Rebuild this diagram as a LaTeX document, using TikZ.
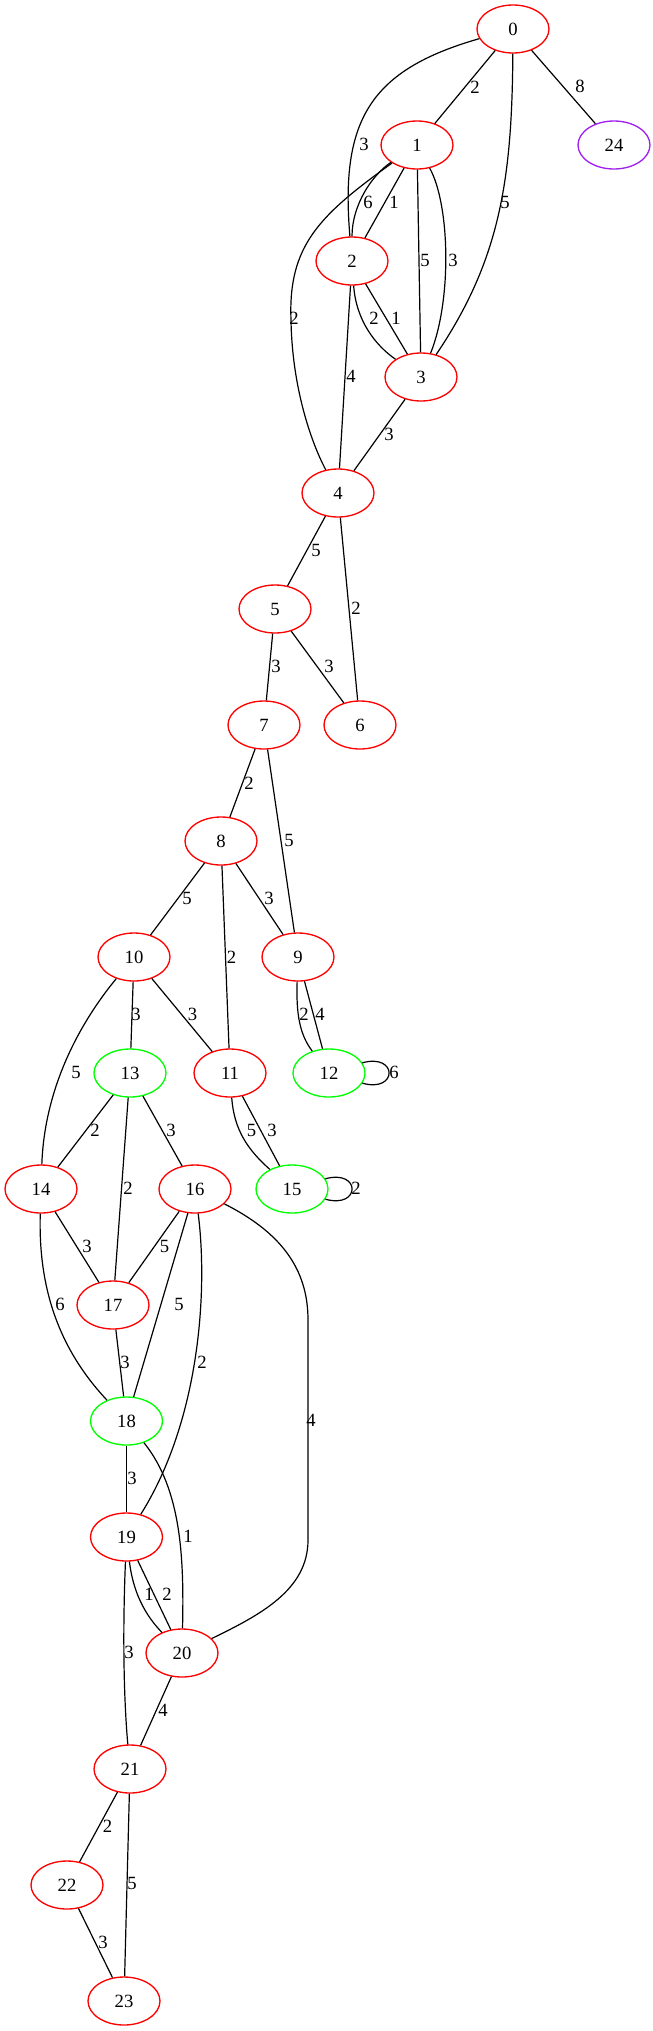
\documentclass[tikz,border=0pt]{standalone}
\usepackage{fontspec}
\setmainfont{Liberation Serif}
\usetikzlibrary{shapes.geometric}
\definecolor{gvred}{HTML}{FF0000}
\definecolor{gvgreen}{HTML}{00FF00}
\definecolor{gvpurple}{HTML}{A020F0}

\begin{document}
\begin{tikzpicture}[
    x=0.75pt, y=-0.75pt,
    font=\fontsize{14}{16}\selectfont,
    % ---- shared styles ---------------------------------------------------
    vx/.style={ellipse, draw=#1, line width=1pt, minimum width=54pt,
               minimum height=36pt, inner sep=0pt},
    wire/.style={draw=black, line width=0.9pt},
    wt/.style={inner sep=0pt},
  ]
\useasboundingbox (0,0) rectangle (653,2031);

% =========================================================================
% VERTICES -- one rank every 116px
% =========================================================================
\foreach \n/\x/\y/\c in {0/513/29/gvred, 1/417/145/gvred, 24/614/145/gvpurple,
    2/352/261/gvred, 3/421/377/gvred, 4/338/493/gvred, 5/275/609/gvred,
    7/264/725/gvred, 6/360/725/gvred, 8/221/841/gvred,
    10/134/957/gvred, 9/298/957/gvred,
    13/130/1073/gvgreen, 11/230/1073/gvred, 12/329/1073/gvgreen,
    14/41/1189/gvred, 16/195/1189/gvred, 15/292/1189/gvgreen,
    17/113/1305/gvred, 18/126.5/1421/gvgreen, 19/126.5/1537/gvred,
    20/182/1653/gvred, 21/130/1769/gvred, 22/67/1885/gvred, 23/124/2001/gvred}{
  \node[vx=\c] (n\n) at (\x,\y) {\n};}

% =========================================================================
% STRAIGHT EDGES -- weight label beside each
% =========================================================================
\foreach \a/\b/\w/\lx/\ly in {0/1/2/475/87, 0/24/8/580/86, 1/2/1/394/202,
    1/3/5/425/260, 2/3/1/396/318, 2/4/4/351/376, 3/4/3/389/434,
    4/5/5/316/550, 4/6/2/356/608, 5/7/3/276/666, 5/6/3/329/666,
    7/8/2/249/783, 7/9/5/289/840, 8/10/5/187/898, 8/11/2/231.5/957,
    8/9/3/269/898, 9/12/4/320/1014, 10/13/3/136/1014, 10/11/3/192.5/1014,
    11/15/3/272/1130, 13/14/2/95/1130, 13/17/2/128/1188, 13/16/3/171/1130,
    14/17/3/87/1246, 16/17/5/164.5/1246, 16/18/5/179/1304,
    17/18/3/125/1362, 18/19/3/132/1478, 19/20/2/167/1594,
    20/21/4/163/1710, 21/22/2/107.6/1826,
    21/23/5/132/1883, 22/23/3/103/1942}{
  \draw[wire] (n\a) -- (n\b) node[wt] at (\lx,\ly) {\w};}

% =========================================================================
% CURVED EDGES
% =========================================================================
\draw[wire] (n0) .. controls (370,70) and (340,120) .. (n2)
  node[wt] at (364,144) {3};
\draw[wire] (n0) .. controls (512,180) and (500,260) .. (n3)
  node[wt] at (505,202) {5};
\draw[wire] (n1) .. controls (372,175) and (352,205) .. (n2)
  node[wt] at (368,202) {6};
\draw[wire] (n1) .. controls (450,205) and (452,300) .. (n3)
  node[wt] at (453,260) {3};
\draw[wire] (n1) .. controls (320,215) and (288,245) .. (291,320)
  .. controls (292,385) and (310,440) .. (n4)
  node[wt] at (294,318) {2};
\draw[wire] (n2) .. controls (356,320) and (375,345) .. (n3)
  node[wt] at (374,318) {2};
\draw[wire] (n9) .. controls (296,1015) and (300,1035) .. (n12)
  node[wt] at (304,1014) {2};
\draw[wire] (n10) .. controls (70,1035) and (44,1100) .. (n14)
  node[wt] at (76,1072) {5};
\draw[wire] (n11) .. controls (234,1130) and (248,1150) .. (n15)
  node[wt] at (251.6,1130) {5};
\draw[wire] (n14) .. controls (38,1290) and (60,1350) .. (n18)
  node[wt] at (60,1304) {6};
\draw[wire] (n16) .. controls (208,1290) and (200,1420) .. (n19)
  node[wt] at (202,1362) {2};
\draw[wire] (n16) .. controls (280,1232) and (308,1268) .. (308,1320)
  -- (308,1540) .. controls (308,1590) and (260,1615) .. (n20)
  node[wt] at (311,1420) {4};
\draw[wire] (n18) .. controls (182,1490) and (184,1560) .. (n20)
  node[wt] at (188,1536) {1};
\draw[wire] (n19) .. controls (133,1592) and (145,1615) .. (n20)
  node[wt] at (149,1594) {1};
\draw[wire] (n19) .. controls (123,1620) and (123,1690) .. (n21)
  node[wt] at (129,1652) {3};

% self loops
\draw[wire] (n12.17) .. controls (398,1053) and (398,1093) .. (n12.-17)
  node[wt] at (394,1072) {6};
\draw[wire] (n15.17) .. controls (361,1169) and (361,1209) .. (n15.-17)
  node[wt] at (356,1188) {2};

\end{tikzpicture}
\end{document}
